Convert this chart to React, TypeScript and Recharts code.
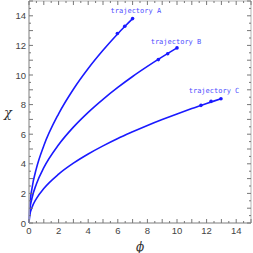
import { ComposedChart, Line, Scatter, XAxis, YAxis, ReferenceArea } from 'recharts'

// values
const trajA = [
  { x: 0, y: 0 }, { x: 0.05, y: 1.17 }, { x: 0.2, y: 2.33 }, { x: 0.5, y: 3.69 },
  { x: 1, y: 5.22 }, { x: 2, y: 7.38 }, { x: 3, y: 9.04 }, { x: 4, y: 10.44 },
  { x: 5, y: 11.67 }, { x: 6, y: 12.79 }, { x: 6.5, y: 13.31 }, { x: 7, y: 13.81 },
]
const trajB = [
  { x: 0, y: 0 }, { x: 0.05, y: 0.84 }, { x: 0.2, y: 1.67 }, { x: 0.5, y: 2.64 },
  { x: 1, y: 3.74 }, { x: 2, y: 5.29 }, { x: 3, y: 6.48 }, { x: 4, y: 7.48 },
  { x: 5, y: 8.36 }, { x: 6, y: 9.16 }, { x: 7, y: 9.9 }, { x: 8, y: 10.58 },
  { x: 9, y: 11.22 }, { x: 10, y: 11.83 },
]
const trajC = [
  { x: 0, y: 0 }, { x: 0.05, y: 0.52 }, { x: 0.2, y: 1.04 }, { x: 0.5, y: 1.65 },
  { x: 1, y: 2.33 }, { x: 2, y: 3.3 }, { x: 3, y: 4.04 }, { x: 4, y: 4.66 },
  { x: 5, y: 5.21 }, { x: 6, y: 5.71 }, { x: 7, y: 6.16 }, { x: 8, y: 6.59 },
  { x: 9, y: 6.99 }, { x: 10, y: 7.37 }, { x: 11, y: 7.73 }, { x: 12, y: 8.07 },
  { x: 12.97, y: 8.4 },
]
const dotsA = [{ x: 5.97, y: 12.8 }, { x: 6.47, y: 13.29 }, { x: 7, y: 13.81 }]
const dotsB = [{ x: 8.74, y: 11.04 }, { x: 9.37, y: 11.44 }, { x: 10, y: 11.83 }]
const dotsC = [{ x: 11.62, y: 7.95 }, { x: 12.3, y: 8.22 }, { x: 12.97, y: 8.4 }]
const labels = [
  { x: 7.22, y: 14.37, text: 'trajectory A' },
  { x: 9.93, y: 12.28, text: 'trajectory B' },
  { x: 12.5, y: 8.97, text: 'trajectory C' },
]
const ticks = [0, 0.5, 1, 1.5, 2, 2.5, 3, 3.5, 4, 4.5, 5, 5.5, 6, 6.5, 7, 7.5, 8, 8.5, 9, 9.5, 10, 10.5, 11, 11.5, 12, 12.5, 13, 13.5, 14, 14.5, 15]
const tickLabels = [0, 2, 4, 6, 8, 10, 12, 14]

const PLOT = 222
const BLUE = '#1a1aff'

function XTick({ x, y, payload }: any) {
  const v = payload.value
  const len = v % 1 === 0 ? 4 : 2
  return (
    <g>
      <line x1={x} x2={x} y1={y} y2={y - len} stroke="#777" />
      <line x1={x} x2={x} y1={y - PLOT} y2={y - PLOT + len} stroke="#777" />
      {tickLabels.includes(v) && (
        <text x={x} y={y + 11} textAnchor="middle" fontSize={9.5} fill="#444" fontFamily="Liberation Sans">
          {v}
        </text>
      )}
    </g>
  )
}

function YTick({ x, y, payload }: any) {
  const v = payload.value
  const len = v % 1 === 0 ? 4 : 2
  return (
    <g>
      <line x1={x} x2={x + len} y1={y} y2={y} stroke="#777" />
      <line x1={x + PLOT} x2={x + PLOT - len} y1={y} y2={y} stroke="#777" />
      {tickLabels.includes(v) && (
        <text x={x - 3} y={y + 3.5} textAnchor="end" fontSize={9.5} fill="#444" fontFamily="Liberation Sans">
          {v}
        </text>
      )}
    </g>
  )
}

const dot = (p: any) => <circle cx={p.cx} cy={p.cy} r={1.8} fill={BLUE} />
const label = (p: any) => (
  <text x={p.cx} y={p.cy + 2.5} textAnchor="middle" fontSize={7} fill="#4d4dff" fontFamily="DejaVu Sans Mono">
    {p.payload.text}
  </text>
)

export default function App() {
  return (
    <div style={{ position: 'absolute', left: 0, top: 0, background: '#fff' }}>
      <ComposedChart width={253} height={253} margin={{ top: 1, right: 2, left: 0, bottom: 0 }}>
        <XAxis
          type="number"
          dataKey="x"
          domain={[0, 15]}
          ticks={ticks}
          interval={0}
          height={30}
          tickSize={0}
          tickMargin={0}
          tick={<XTick />}
          axisLine={{ stroke: '#b5b5b5', strokeWidth: 1.5 }}
          label={{ value: 'ϕ', position: 'insideBottom', offset: 2, fontSize: 12, fontStyle: 'italic', fill: '#333', fontFamily: 'DejaVu Serif' }}
        />
        <YAxis
          type="number"
          dataKey="y"
          domain={[0, 15]}
          ticks={ticks}
          interval={0}
          width={29}
          tickSize={0}
          tickMargin={0}
          tick={<YTick />}
          axisLine={{ stroke: '#b5b5b5', strokeWidth: 1.5 }}
          label={{ value: 'χ', angle: 0, position: 'insideLeft', offset: 4, fontSize: 13, fontStyle: 'italic', fill: '#333', fontFamily: 'DejaVu Serif' }}
        />
        <ReferenceArea x1={0} x2={15} y1={0} y2={15} fill="none" stroke="#b5b5b5" strokeWidth={1} />
        <Line data={trajA} dataKey="y" type="monotone" stroke={BLUE} strokeWidth={1.6} dot={false} isAnimationActive={false} />
        <Line data={trajB} dataKey="y" type="monotone" stroke={BLUE} strokeWidth={1.6} dot={false} isAnimationActive={false} />
        <Line data={trajC} dataKey="y" type="monotone" stroke={BLUE} strokeWidth={1.6} dot={false} isAnimationActive={false} />
        <Scatter data={dotsA} dataKey="y" shape={dot} isAnimationActive={false} />
        <Scatter data={dotsB} dataKey="y" shape={dot} isAnimationActive={false} />
        <Scatter data={dotsC} dataKey="y" shape={dot} isAnimationActive={false} />
        <Scatter data={labels} dataKey="y" shape={label} isAnimationActive={false} />
      </ComposedChart>
    </div>
  )
}
